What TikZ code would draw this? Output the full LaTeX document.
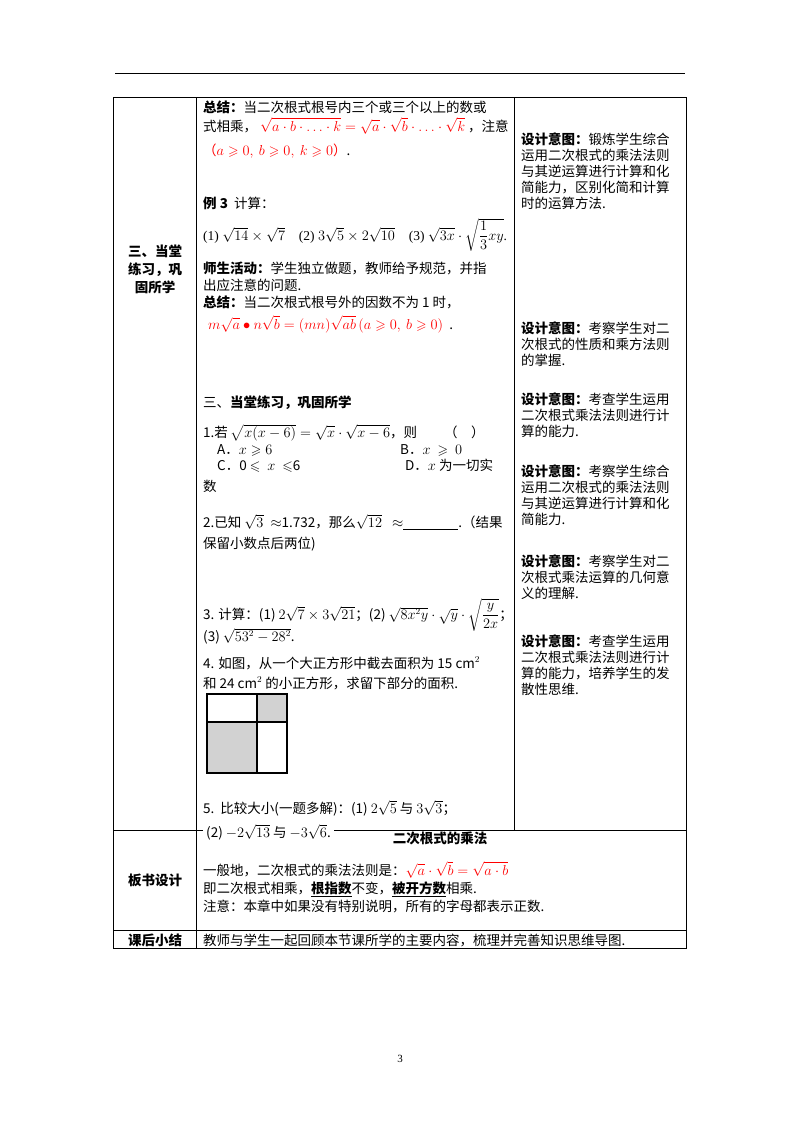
\documentclass[tikz,border=0pt]{standalone}
\usepackage{amsmath,amssymb}
\usepackage{fontspec}
\setmainfont{Noto Sans CJK SC}
\newfontfamily\lat{Liberation Serif}
\newcommand\fsz{\fontsize{13.5}{16}\selectfont}
\newcommand\dy{\textbf{设计意图：}}
\begin{document}
\begin{tikzpicture}[x=1pt,y=-1pt,
 t/.style={anchor=base west,inner sep=0pt,font=\fsz},
 c/.style={anchor=base,inner sep=0pt,font=\fsz\bfseries},
 rd/.style={t,text=red},
 ln/.style={line width=0.8pt}]
\useasboundingbox (0,0) rectangle (800,1132);
\fill[white] (0,0) rectangle (800,1132);
\draw[line width=0.6pt] (115,73) -- (685,73);
% table
\draw[ln] (113,97) rectangle (686,948);
\draw[ln] (196,97) -- (196,948);
\draw[ln] (514,97) -- (514,830);
\draw[ln] (113,830) -- (686,830);
\draw[ln] (113,930) -- (686,930);
% left column
\node[c] (l1) at (155,256) {三、当堂};
\node[c] (l2) at (155,274) {练习，巩};
\node[c] (l3) at (155,292) {固所学};
\node[c] (l4) at (155,885) {板书设计};
\node[c] (l5) at (155,945) {课后小结};
% middle column
\node[t] (m1) at (203,112) {\textbf{总结：}当二次根式根号内三个或三个以上的数或};
\node[t] (m2a) at (203,131) {式相乘，};
\node[rd] (m2b) at (260,131) {$\sqrt{a\cdot b\cdot\ldots\cdot k}=\sqrt{a}\cdot\sqrt{b}\cdot\ldots\cdot\sqrt{k}$};
\node[t] (m2c) at (468,131) {，注意};
\node[rd] (m3) at (203,155) {（$a\geqslant0,\ b\geqslant0,\ k\geqslant0$）\textcolor{black}{.}};
\node[t] (m4) at (203,208) {\textbf{例 3}\ \ 计算：};
\node[t] (m5) at (203,240) {\lat (1) $\sqrt{14}\times\sqrt{7}$；\ (2) $3\sqrt{5}\times2\sqrt{10}$；\ (3) $\sqrt{3x}\cdot\sqrt{\dfrac13xy}$.};
\node[t] (m6) at (203,273) {\textbf{师生活动：}学生独立做题，教师给予规范，并指};
\node[t] (m7) at (203,290) {出应注意的问题.};
\node[t] (m8) at (203,307) {\textbf{总结：}当二次根式根号外的因数不为 1 时，};
\node[rd] (m9) at (208,329) {$m\sqrt{a}\bullet n\sqrt{b}=(mn)\sqrt{ab}\,(a\geqslant0,\ b\geqslant0)$\textcolor{black}{\ \ .}};
\node[t] (m10) at (203,407) {三、\textbf{当堂练习，巩固所学}};
\node[t] (m11) at (203,437) {1.若 $\sqrt{x(x-6)}=\sqrt{x}\cdot\sqrt{x-6}$，则\qquad（\quad ）};
\node[t] (m12) at (217,454) {A．$x\geqslant6$};
\node[t] (m13) at (400,454) {B．$x\ \geqslant\ 0$};
\node[t] (m14) at (217,470) {C．0 $\leqslant\ x\ \leqslant$6};
\node[t] (m15) at (405,470) {D．$x$ 为一切实};
\node[t] (m16) at (203,491) {数};
\node[t] (m17) at (203,527) {2.已知 $\sqrt3\ \approx$1.732，那么$\sqrt{12}\ \ \approx$\underline{\hspace{55pt}}.（结果};
\node[t] (m18) at (203,548) {保留小数点后两位)};
\node[t] (m19) at (203,619) {3. 计算：(1) $2\sqrt7\times3\sqrt{21}$；(2) $\sqrt{8x^2y}\cdot\sqrt{y}\cdot\sqrt{\dfrac{y}{2x}}$；};
\node[t] (m20) at (203,641) {(3) $\sqrt{53^2-28^2}$.};
\node[t] (m21) at (203,668) {4. 如图，从一个大正方形中截去面积为\ 15 cm$^2$};
\node[t] (m22) at (203,688) {和\ 24 cm$^2$\ 的小正方形，求留下部分的面积.};
\fill[gray!35] (257,694) rectangle (287,722);
\fill[gray!35] (207,722) rectangle (257,773);
\draw[line width=1.4pt] (207,694) rectangle (287,773);
\draw[line width=1.4pt] (257,694) -- (257,773) (207,722) -- (287,722);
\node[t] (m23) at (203,813) {5.\ \ 比较大小(一题多解)：(1) $2\sqrt5$ 与 $3\sqrt3$；};
\node[t,fill=white,inner xsep=3pt] (m24) at (203,837) {(2) $-2\sqrt{13}$ 与 $-3\sqrt6$.};
\node[c] (b0) at (440,843) {二次根式的乘法};
\node[t] (b1) at (203,875) {一般地，二次根式的乘法法则是：\textcolor{red}{$\sqrt a\cdot\sqrt b=\sqrt{a\cdot b}$}};
\node[t] (b2) at (203,893) {即二次根式相乘，\underline{\textbf{根指数}}不变，\underline{\textbf{被开方数}}相乘.};
\node[t] (b3) at (203,911) {注意：本章中如果没有特别说明，所有的字母都表示正数.};
\node[t] (k1) at (203,945) {教师与学生一起回顾本节课所学的主要内容，梳理并完善知识思维导图.};
% right column
\node[t,align=left,anchor=north west] (r1) at (521,133) {\dy 锻炼学生综合\\运用二次根式的乘法法则\\与其逆运算进行计算和化\\简能力，区别化简和计算\\时的运算方法.};
\node[t,align=left,anchor=north west] (r2) at (521,322) {\dy 考察学生对二\\次根式的性质和乘方法则\\的掌握.};
\node[t,align=left,anchor=north west] (r3) at (521,393) {\dy 考查学生运用\\二次根式乘法法则进行计\\算的能力.};
\node[t,align=left,anchor=north west] (r4) at (521,465) {\dy 考察学生综合\\运用二次根式的乘法法则\\与其逆运算进行计算和化\\简能力.};
\node[t,align=left,anchor=north west] (r5) at (521,555) {\dy 考察学生对二\\次根式乘法运算的几何意\\义的理解.};
\node[t,align=left,anchor=north west] (r6) at (521,635) {\dy 考查学生运用\\二次根式乘法法则进行计\\算的能力，培养学生的发\\散性思维.};
\node[t,anchor=base,font=\lat\fontsize{11}{12}\selectfont] (pg) at (400,1062) {3};
\end{tikzpicture}
\end{document}
